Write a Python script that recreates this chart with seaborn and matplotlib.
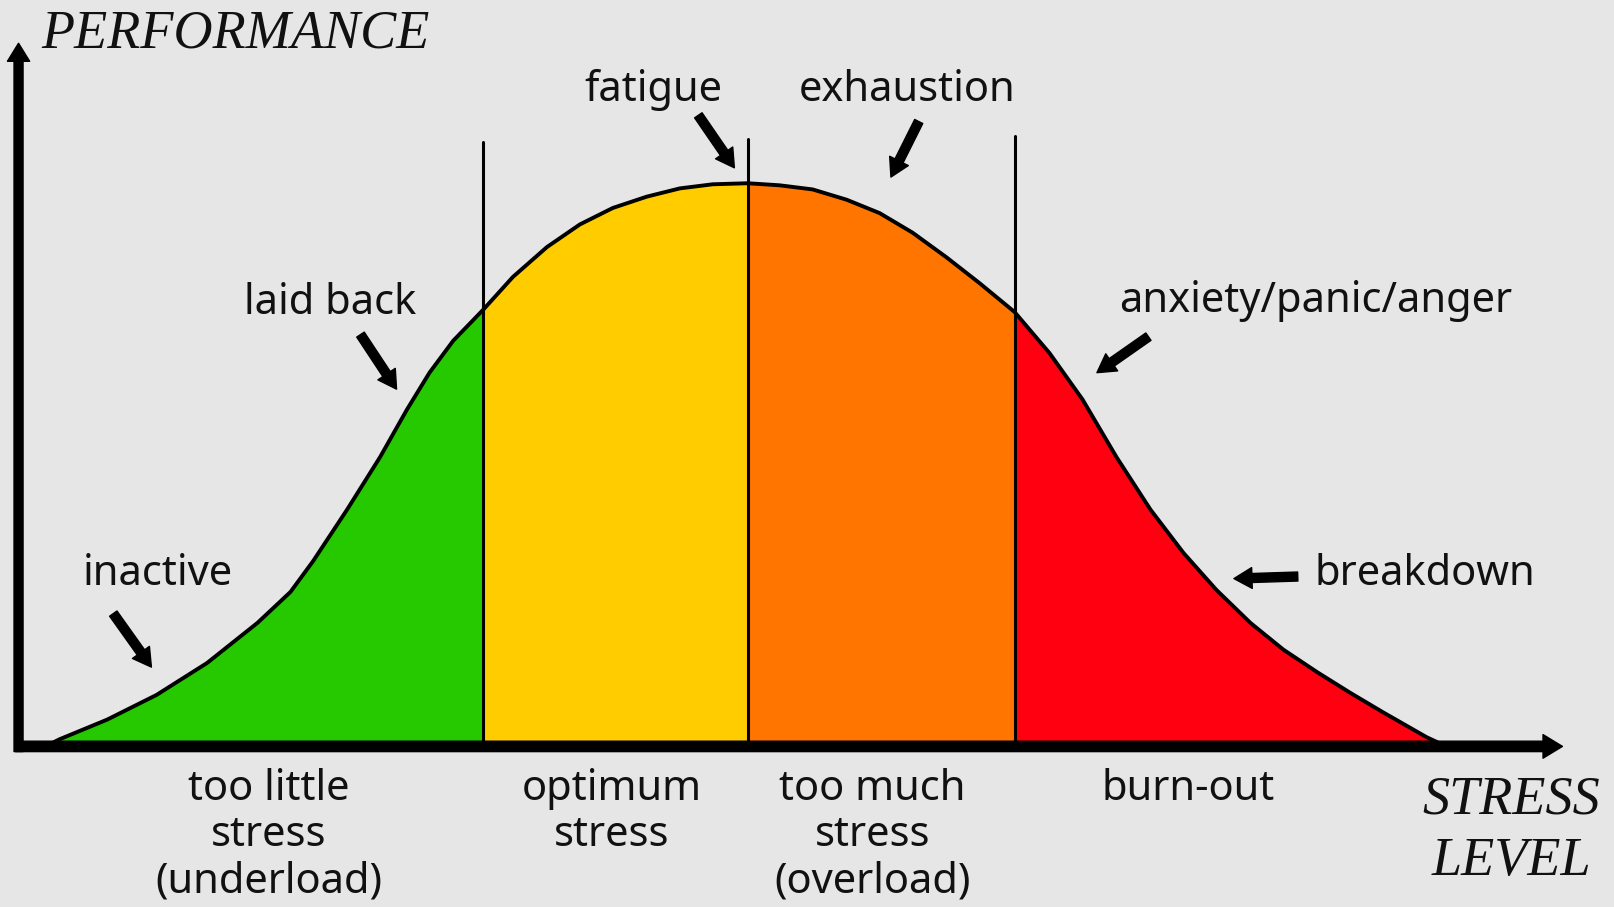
import matplotlib
matplotlib.use("Agg")
import matplotlib.pyplot as plt
import seaborn as sns
import numpy as np

# curve (stress level vs performance)
stress = [30, 40, 86, 134, 183, 232, 264, 286, 319, 351, 377, 399, 422, 451,
          480, 513, 545, 577, 610, 642, 674, 708, 739, 771, 804, 836, 868, 901, 933, 967,
          1001, 1033, 1066, 1099, 1131, 1163, 1196, 1228, 1261, 1293, 1325, 1367, 1382]
performance = [2, 7, 26, 50, 81, 120, 150, 180, 230, 281, 327, 363, 394, 424,
               456, 485, 507, 523, 534, 542, 546, 547, 545, 541, 531, 518, 499, 475, 450, 422,
               382, 337, 281, 230, 188, 152, 120, 94, 72, 52, 33, 9, 2]

# zone borders and the height of the divider lines
borders = [451, 708, 967]
divider_tops = [587, 590, 593]

zone_colors = ["#26C800", "#FFCC00", "#FF7500", "#FF0010"]
zone_labels = [["too little", "stress", "(underload)"],
               ["optimum", "stress"],
               ["too much", "stress", "(overload)"],
               ["burn-out"]]
zone_label_x = [243, 576, 829, 1136]

sns.set_style("white")
plt.rcParams["font.family"] = ["Noto Sans", "DejaVu Sans"]

bg = "#E6E6E6"
fig = plt.figure(figsize=(16.15, 9.07), dpi=100, facecolor=bg)
ax = fig.add_axes([0, 0, 1, 1])
ax.set_facecolor(bg)
ax.set_xlim(-18, 1550)
ax.set_ylim(-156, 725)
ax.axis("off")

x = np.array(stress)
y = np.array(performance)
edges = [x.min()] + borders + [x.max()]
for i, col in enumerate(zone_colors):
    m = (x >= edges[i]) & (x <= edges[i + 1])
    ax.fill_between(x[m], 0, y[m], color=col, lw=0, zorder=1)

sns.lineplot(x=stress, y=performance, color="black", lw=2.8, ax=ax, zorder=3)

for b, top in zip(borders, divider_tops):
    ax.plot([b, b], [0, top], color="black", lw=2.2, zorder=3)

# axes with arrow heads
ax.annotate("", xy=(1499, 0), xytext=(-3, 0), zorder=4,
            arrowprops=dict(facecolor="black", edgecolor="black", width=7.5,
                            headwidth=17, headlength=14, shrink=0))
ax.annotate("", xy=(0, 683), xytext=(0, -5), zorder=4,
            arrowprops=dict(facecolor="black", edgecolor="black", width=6.5,
                            headwidth=16, headlength=13, shrink=0))

serif = dict(family="Liberation Serif", style="italic", fontsize=39, color="#111111")
ax.text(22, 679, "PERFORMANCE", ha="left", va="baseline", **serif)
ax.text(1449, -65, "STRESS", ha="center", va="baseline", **serif)
ax.text(1449, -125, "LEVEL", ha="center", va="baseline", **serif)

hand = dict(fontsize=30, color="#111111", ha="center", va="baseline")
notes = [("laid back", 303, 420, (332, 400), (367, 347)),
         ("inactive", 135, 157, (92, 129), (129, 77)),
         ("fatigue", 616, 627, (660, 613), (695, 562)),
         ("exhaustion", 863, 627, (874, 607), (847, 553)),
         ("anxiety/panic/anger", 1259, 422, (1097, 398), (1047, 363)),
         ("breakdown", 1365, 157, (1242, 165), (1180, 163))]
note_arrow = dict(facecolor="black", edgecolor="black", width=6.5, headwidth=15,
                  headlength=13, shrink=0)
for label, tx, ty, start, end in notes:
    ax.text(tx, ty, label, **hand)
    ax.annotate("", xy=end, xytext=start, arrowprops=note_arrow, zorder=4)

row_y = [-52, -97, -142]
for lines, lx in zip(zone_labels, zone_label_x):
    for line, ly in zip(lines, row_y):
        ax.text(lx, ly, line, **hand)

fig.savefig("out.png", dpi=100, facecolor=bg)
